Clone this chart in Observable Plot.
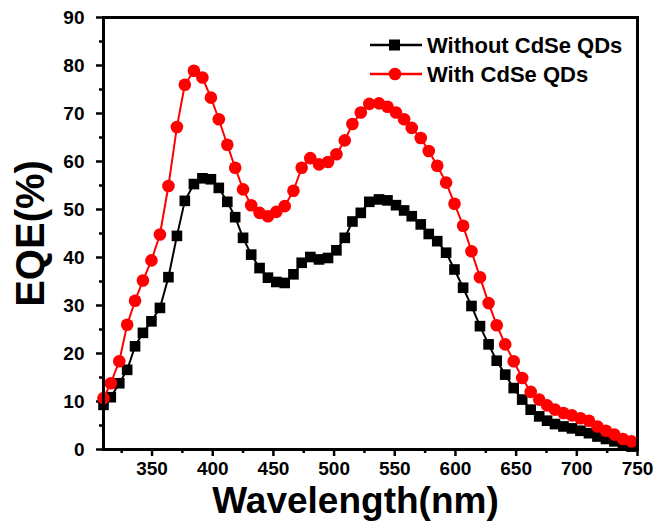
<!DOCTYPE html>
<html><head><meta charset="utf-8">
<script src="https://cdn.jsdelivr.net/npm/d3@7"></script>
<script src="https://cdn.jsdelivr.net/npm/@observablehq/plot@0.6"></script>
<style>
body{margin:0;background:#fff}
#chart svg{font-family:"Liberation Sans",Arial,sans-serif;display:block}
</style>
</head><body><div id="chart"></div>
<script>
const wavelength = [310,316,323,329.5,336,342.5,349.5,356.5,363.5,370.5,377,384.5,391.5,398.5,405,412,418.5,425,431.7,438.6,445.5,452.4,459.3,466.5,473.3,480.4,487.6,495,501.9,508.8,515.1,522,529,537,544,551,557.7,564,571.4,578,585,592.3,599.2,606.3,613.2,620.2,627.3,634,641,648,655,662,669,675.5,682,689,696,703,710,717,724,731,738,745];
const withoutQDs = [9.3,10.9,13.8,16.6,21.5,24.3,26.7,29.5,35.9,44.5,51.8,55.3,56.5,56.3,54.5,51.6,48.4,44.1,40.6,37.8,35.8,34.9,34.7,36.5,38.9,40.1,39.6,39.9,41.5,44.1,47.5,49.3,51.6,52.1,51.9,50.9,49.8,48.6,46.9,44.9,43.4,41.0,37.5,33.7,29.9,25.7,21.9,18.5,15.6,12.8,10.4,8.3,6.9,6.0,5.3,4.8,4.4,3.9,3.4,2.7,2.2,1.7,1.1,0.6];
const withQDs = [10.7,13.8,18.4,26.0,31.0,35.2,39.4,44.8,54.9,67.2,76.0,78.9,77.5,73.3,68.8,63.5,58.7,54.2,50.9,49.3,48.6,49.5,50.7,53.9,58.7,60.7,59.4,59.9,61.5,64.4,67.8,70.2,72.0,72.1,71.4,70.2,68.8,67.0,64.9,62.2,59.1,55.6,51.2,46.6,41.3,35.9,30.5,25.9,21.9,18.4,14.9,12.0,10.4,9.2,8.3,7.6,7.1,6.5,6.0,4.8,3.9,3.1,2.2,1.7];
const seriesNames = ["Without CdSe QDs","With CdSe QDs"];
const seriesColors = ["#000000","#ff0000"];
const xTicks = [350,400,450,500,550,600,650,700,750];
const xMinorTicks = [325,375,425,475,525,575,625,675,725];
const yTicks = [0,10,20,30,40,50,60,70,80,90];
const yMinorTicks = [5,15,25,35,45,55,65,75,85];
const xTitle = "Wavelength(nm)";
const yTitle = "EQE(%)";

const rows = seriesNames.flatMap((s, k) =>
  wavelength.map((w, i) => ({w, v: (k === 0 ? withoutQDs : withQDs)[i], s})));
const blackRows = rows.filter(d => d.s === seriesNames[0]);
const redRows = rows.filter(d => d.s === seriesNames[1]);

const chart = Plot.plot({
  width: 657, height: 531,
  marginLeft: 103, marginRight: 20, marginTop: 17, marginBottom: 82,
  style: {background: "#fff", fontFamily: "Liberation Sans, Arial, sans-serif", color: "#000"},
  x: {domain: [310, 750]},
  y: {domain: [0, 90]},
  color: {domain: seriesNames, range: seriesColors},
  marks: [
    Plot.axisX({ticks: xMinorTicks, tickSize: 4, text: null, strokeWidth: 2.5, label: null}),
    Plot.axisX({ticks: xTicks, tickSize: 7, tickPadding: 5, strokeWidth: 2.5, fontSize: 19, fontWeight: "bold", tickFormat: d => d, label: null}),
    Plot.axisY({ticks: yMinorTicks, tickSize: 4, text: null, strokeWidth: 2.5, label: null}),
    Plot.axisY({ticks: yTicks, tickSize: 7, tickPadding: 12, strokeWidth: 2.5, fontSize: 19, fontWeight: "bold", label: null}),
    Plot.line(blackRows, {x: "w", y: "v", stroke: "s", strokeWidth: 2}),
    Plot.dot(blackRows, {x: "w", y: "v", fill: "s", symbol: "square", r: 6}),
    Plot.line(redRows, {x: "w", y: "v", stroke: "s", strokeWidth: 2}),
    Plot.dot(redRows, {x: "w", y: "v", fill: "s", symbol: "circle", r: 6.3}),
    Plot.text([xTitle], {frameAnchor: "bottom", textAnchor: "middle", lineAnchor: "middle", dx: -15, dy: 52, fontSize: 37, fontWeight: "bold", fill: "#000"}),
    Plot.text([yTitle], {frameAnchor: "left", textAnchor: "middle", lineAnchor: "middle", dx: -72, rotate: -90, fontSize: 40, fontWeight: "bold", fill: "#000"}),
    Plot.frame({stroke: "#000", strokeWidth: 3})
  ]
});
document.getElementById("chart").appendChild(chart);

// legend
const svg = d3.select(chart);
const lg = svg.append("g").attr("font-family", "Liberation Sans, Arial, sans-serif").attr("text-anchor", "start");
seriesNames.forEach((name, i) => {
  const y = 45 + i * 29;
  const g = lg.append("g").attr("transform", `translate(370,${y})`);
  g.append("line").attr("x1", 0).attr("x2", 52).attr("stroke", seriesColors[i]).attr("stroke-width", 2.5);
  if (i === 0) g.append("rect").attr("x", 19).attr("y", -5.5).attr("width", 11).attr("height", 11).attr("fill", seriesColors[i]);
  else g.append("circle").attr("cx", 25).attr("r", 6.3).attr("fill", seriesColors[i]);
  g.append("text").attr("x", 57).attr("dy", "0.36em").attr("text-anchor", "start").attr("font-size", 22).attr("font-weight", "bold").attr("fill", "#000").text(name);
});
</script>
</body></html>
